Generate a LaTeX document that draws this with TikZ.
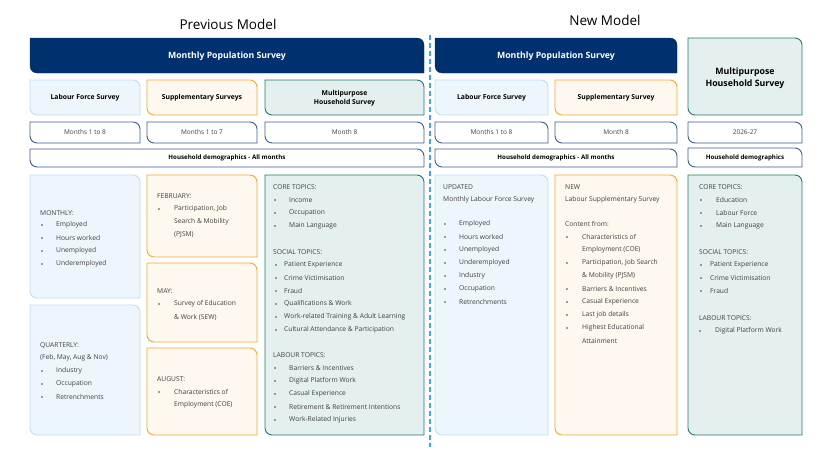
\documentclass[tikz,border=0pt]{standalone}
\usepackage{fontspec}
\setmainfont{Open Sans}
\usetikzlibrary{positioning}
\definecolor{mpsblue}{HTML}{00306E}
\definecolor{lfsfill}{HTML}{EEF6FD}
\definecolor{lfsline}{HTML}{BDDFF4}
\definecolor{supfill}{HTML}{FEF8EE}
\definecolor{supline}{HTML}{F5A834}
\definecolor{mhsfill}{HTML}{E4F0EF}
\definecolor{mhsline}{HTML}{1F7A6A}
\definecolor{monline}{HTML}{3D5C8E}
\definecolor{bodytext}{HTML}{404040}
\definecolor{divline}{HTML}{3FA6DE}
\tikzset{
  mps/.style={fill=mpsblue, draw=mpsblue},
  lfs/.style={fill=lfsfill, draw=lfsline, line width=0.9pt},
  sup/.style={fill=supfill, draw=supline, line width=0.9pt},
  mhs/.style={fill=mhsfill, draw=mhsline, line width=0.9pt},
  mon/.style={fill=white, draw=monline, line width=0.9pt},
  hd/.style={font=\bfseries\fontsize{6.8}{8.5}\selectfont, text=black, align=center},
  mo/.style={font=\fontsize{6.5}{8}\selectfont, text=bodytext},
  txt/.style={anchor=west, inner sep=0pt, font=\fontsize{6.7}{8}\selectfont, text=bodytext},
  bul/.style={circle, fill=bodytext, inner sep=0pt, minimum size=1.6pt}
}
% box with top-left and bottom-right corners rounded
\newcommand{\rbox}[5]{\path[#1] (#2,#5) [sharp corners] -- (#2,#3) [rounded corners=7pt] -- (#4,#3) [sharp corners] -- (#4,#5) [rounded corners=7pt] -- cycle;}
\begin{document}
\begin{tikzpicture}[x=1pt,y=-1pt]
\useasboundingbox (0,0) rectangle (832,450);

% titles
\node[font=\fontsize{13.5}{15}\selectfont] (prev) at (228,24) {Previous Model};
\node[font=\fontsize{13.5}{15}\selectfont] (new) at (605,20) {New Model};
\draw[divline, line width=1.4pt, dash pattern=on 5pt off 3pt] (430,35) -- (430,447);

% ---- previous model ----
\rbox{mps}{30}{38}{424}{73}
\node[font=\bfseries\fontsize{8.7}{10}\selectfont, text=white] (mpsL) at (227,56) {Monthly Population Survey};
\rbox{lfs}{30}{80}{140}{115}
\rbox{sup}{147}{80}{257}{115}
\rbox{mhs}{265}{80}{424}{115}
\node[hd] (lfsL) at (85,98) {Labour Force Survey};
\node[hd] (supL) at (202,98) {Supplementary Surveys};
\node[hd] (mhsL) at (344.5,98) {Multipurpose\\Household Survey};
\rbox{mon}{30}{122}{140}{143}
\rbox{mon}{147}{122}{257}{143}
\rbox{mon}{265}{122}{424}{143}
\node[mo] (lfsM) at (85,132.5) {Months 1 to 8};
\node[mo] (supM) at (202,132.5) {Months 1 to 7};
\node[mo] (mhsM) at (344.5,132.5) {Month 8};
\rbox{mon}{30}{149}{424}{167}
\node[hd, font=\bfseries\fontsize{6.2}{7}\selectfont] (hhL) at (227,158) {Household demographics - All months};

\rbox{lfs}{30}{175}{140}{298}
\rbox{lfs}{30}{305}{140}{435}
\rbox{sup}{147}{175}{257}{257}
\rbox{sup}{147}{263}{257}{342}
\rbox{sup}{147}{348}{257}{435}
\rbox{mhs}{265}{175}{424}{435}

\node[txt] (monthly) at (40,213) {MONTHLY:};
\foreach \yy/\lbl in {225/Employed, 238/Hours worked, 251/Unemployed, 264/Underemployed}{
  \node[bul] at (42,\yy) {};
  \node[txt] (lm\yy) at (56,\yy) {\lbl};
}
\node[txt] (quarterly) at (40,346) {QUARTERLY:};
\node[txt] (qmonths) at (40,358) {(Feb, May, Aug \& Nov)};
\foreach \yy/\lbl in {371/Industry, 384/Occupation, 397/Retrenchments}{
  \node[bul] at (42,\yy) {};
  \node[txt] (lq\yy) at (56,\yy) {\lbl};
}

\node[txt] (feb) at (157,196) {FEBRUARY:};
\node[bul] at (159,209) {};
\node[txt] (feb1) at (174,209) {Participation, Job};
\node[txt] (feb2) at (174,222) {Search \& Mobility};
\node[txt] (feb3) at (174,235) {(PJSM)};
\node[txt] (may) at (157,291) {MAY:};
\node[bul] at (159,304) {};
\node[txt] (may1) at (174,304) {Survey of Education};
\node[txt] (may2) at (174,317) {\& Work (SEW)};
\node[txt] (aug) at (157,379) {AUGUST:};
\node[bul] at (159,392) {};
\node[txt] (aug1) at (174,392) {Characteristics of};
\node[txt] (aug2) at (174,405) {Employment (COE)};

\node[txt] (core) at (273,187) {CORE TOPICS:};
\foreach \yy/\lbl in {200/Income, 213/Occupation, 226/Main Language}{
  \node[bul] at (275,\yy) {};
  \node[txt] (mc\yy) at (289,\yy) {\lbl};
}
\node[txt] (social) at (273,252) {SOCIAL TOPICS:};
\foreach \yy/\lbl in {265/Patient Experience, 278/Crime Victimisation, 291/Fraud, 304/Qualifications \& Work, 317/Work-related Training \& Adult Learning, 330/Cultural Attendance \& Participation}{
  \node[bul] at (276,\yy) {};
  \node[txt] (ms\yy) at (284,\yy) {\lbl};
}
\node[txt] (labour) at (273,355) {LABOUR TOPICS:};
\foreach \yy/\lbl in {368/Barriers \& Incentives, 381/Digital Platform Work, 394/Casual Experience, 407/Retirement \& Retirement Intentions, 420/Work-Related Injuries}{
  \node[bul] at (275,\yy) {};
  \node[txt] (ml\yy) at (289,\yy) {\lbl};
}

% ---- new model ----
\rbox{mps}{435}{38}{677}{73}
\node[font=\bfseries\fontsize{8.7}{10}\selectfont, text=white] (mpsR) at (556,56) {Monthly Population Survey};
\rbox{lfs}{435}{80}{548}{115}
\rbox{sup}{555}{80}{677}{115}
\rbox{mhs}{688}{38}{802}{115}
\node[hd] (lfsR) at (491.5,98) {Labour Force Survey};
\node[hd] (supR) at (616,98) {Supplementary Survey};
\node[hd, font=\bfseries\fontsize{8.8}{11.5}\selectfont] (mhsR) at (745,78) {Multipurpose\\Household Survey};
\rbox{mon}{435}{122}{548}{143}
\rbox{mon}{555}{122}{677}{143}
\rbox{mon}{688}{122}{802}{143}
\node[mo] (lfsRM) at (491.5,132.5) {Months 1 to 8};
\node[mo] (supRM) at (616,132.5) {Month 8};
\node[mo] (mhsRM) at (745,132.5) {2026-27};
\rbox{mon}{435}{149}{677}{167}
\rbox{mon}{688}{148}{802}{167}
\node[hd, font=\bfseries\fontsize{6.2}{7}\selectfont] (hhR) at (556,158) {Household demographics - All months};
\node[hd, font=\bfseries\fontsize{6.2}{7}\selectfont] (hhR2) at (745,157.5) {Household demographics};

\rbox{lfs}{435}{175}{548}{435}
\rbox{sup}{555}{175}{677}{435}
\rbox{mhs}{688}{175}{802}{435}

\node[txt] (upd) at (443,187) {UPDATED};
\node[txt] (upd2) at (443,200) {Monthly Labour Force Survey};
\foreach \yy/\lbl in {224/Employed, 237/Hours worked, 250/Unemployed, 263/Underemployed, 276/Industry, 289/Occupation, 302/Retrenchments}{
  \node[bul] at (445,\yy) {};
  \node[txt] (rl\yy) at (459,\yy) {\lbl};
}
\node[txt] (nw) at (565,187) {NEW};
\node[txt] (nw2) at (565,200) {Labour Supplementary Survey};
\node[txt] (cf) at (565,224) {Content from:};
\foreach \yy/\lbl in {237/Characteristics of, 263/{Participation, Job Search}, 289/Barriers \& Incentives, 302/Casual Experience, 315/Last job details, 328/Highest Educational}{
  \node[bul] at (567,\yy) {};
  \node[txt] (rs\yy) at (582,\yy) {\lbl};
}
\node[txt] (rs250) at (582,250) {Employment (COE)};
\node[txt] (rs276) at (582,276) {\& Mobility (PJSM)};
\node[txt] (rs341) at (582,341) {Attainment};

\node[txt] (rcore) at (699,187) {CORE TOPICS:};
\foreach \yy/\lbl in {200/Education, 213/Labour Force, 226/Main Language}{
  \node[bul] at (701,\yy) {};
  \node[txt] (rc\yy) at (716,\yy) {\lbl};
}
\node[txt] (rsocial) at (699,252) {SOCIAL TOPICS:};
\foreach \yy/\lbl in {265/Patient Experience, 278/Crime Victimisation, 291/Fraud}{
  \node[bul] at (701,\yy) {};
  \node[txt] (rso\yy) at (710,\yy) {\lbl};
}
\node[txt] (rlabour) at (699,318) {LABOUR TOPICS:};
\node[bul] at (700,331) {};
\node[txt] (rlab1) at (715,331) {Digital Platform Work};
\end{tikzpicture}
\end{document}
